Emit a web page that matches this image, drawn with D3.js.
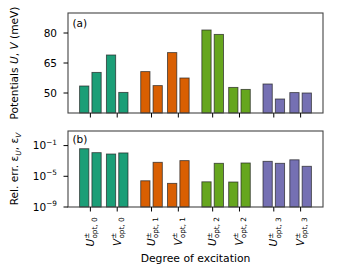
<!DOCTYPE html>
<html><head><meta charset="utf-8">
<script src="https://cdn.jsdelivr.net/npm/d3@7"></script>
<style>body{margin:0;background:#fff}svg{display:block}text{font-family:"DejaVu Sans",sans-serif;fill:#000}</style>
</head><body><svg id="c" width="340" height="270"></svg>
<script>
const groups = ["0", "1", "2", "3"];
const kinds = ["U", "V"];
// first / second bar of each pair, order: U0, V0, U1, V1, U2, V2, U3, V3
const potFirst  = [53.5, 69.0, 60.7, 70.2, 81.5, 52.8, 54.5, 50.2];
const potSecond = [60.3, 50.3, 53.7, 57.5, 79.3, 51.8, 47.0, 50.0];
const errFirst  = [3.9e-2, 8.0e-3, 2.6e-6, 1.2e-6, 1.9e-6, 1.8e-6, 8.9e-4, 1.4e-3];
const errSecond = [1.2e-2, 1.1e-2, 6.6e-4, 1.1e-3, 4.9e-4, 5.4e-4, 4.9e-4, 2.0e-4];
const potTicks = [50, 65, 80];
const errTicks = [-9, -5, -1];
const colors = ["#1b9e77", "#d95f02", "#66a61e", "#7570b3"];

const svg = d3.select("#c");
const L = 68, R = 323;
const A = {top: 13, bottom: 113};
const B = {top: 131, bottom: 207};
const GSTEP = 2.28, OFF = 0.23, BW = 0.345;

const cats = [];
groups.forEach((g, gi) => kinds.forEach((k, ki) => cats.push({g, gi, k, ki, pos: gi * GSTEP + ki})));

const x = d3.scaleLinear().domain([-0.835, 8.675]).range([L, R]);
const yA = d3.scaleLinear().domain([40, 90]).range([A.bottom, A.top]);
const yB = d3.scaleLog().domain([1e-9, Math.pow(10, 0.9)]).range([B.bottom, B.top]);

function bars(vals1, vals2, y, base) {
  const data = [];
  cats.forEach((c, i) => {
    data.push({c, v: vals1[i], cx: c.pos - OFF});
    data.push({c, v: vals2[i], cx: c.pos + OFF});
  });
  svg.append("g").selectAll("rect").data(data).join("rect")
    .attr("x", d => x(d.cx - BW / 2))
    .attr("width", d => x(BW) - x(0))
    .attr("y", d => y(d.v))
    .attr("height", d => y(base) - y(d.v))
    .attr("fill", d => colors[d.c.gi])
    .attr("stroke", "#222").attr("stroke-opacity", 0.75).attr("stroke-width", 0.9);
}
bars(potFirst, potSecond, yA, 40);
bars(errFirst, errSecond, yB, 1e-9);

// frames
[A, B].forEach(p => {
  svg.append("rect").attr("x", L).attr("y", p.top).attr("width", R - L).attr("height", p.bottom - p.top)
    .attr("fill", "none").attr("stroke", "#444").attr("stroke-width", 1.1);
});

// x ticks
[A, B].forEach(p => {
  svg.append("g").selectAll("line").data(cats).join("line")
    .attr("x1", d => x(d.pos)).attr("x2", d => x(d.pos))
    .attr("y1", p.bottom).attr("y2", p.bottom + 4.5)
    .attr("stroke", "#000").attr("stroke-width", 1);
});

// y ticks A
const ga = svg.append("g");
ga.selectAll("line").data(potTicks).join("line")
  .attr("x1", L - 4.5).attr("x2", L).attr("y1", d => yA(d)).attr("y2", d => yA(d))
  .attr("stroke", "#000");
ga.selectAll("text").data(potTicks).join("text")
  .attr("x", L - 11).attr("y", d => yA(d)).attr("dy", "0.35em")
  .attr("text-anchor", "end").attr("font-size", 10.5).text(d => d);

// y ticks B
const gb = svg.append("g");
gb.selectAll("line").data(errTicks).join("line")
  .attr("x1", L - 4.5).attr("x2", L).attr("y1", d => yB(Math.pow(10, d))).attr("y2", d => yB(Math.pow(10, d)))
  .attr("stroke", "#000");
errTicks.forEach(e => {
  const t = gb.append("text").attr("x", L - 11).attr("y", yB(Math.pow(10, e)) + 3.7)
    .attr("text-anchor", "end").attr("font-size", 10.5);
  t.append("tspan").text("10");
  t.append("tspan").attr("font-size", 7.3).attr("dy", -4.7).text("\u2212" + Math.abs(e));
});

// x tick labels
cats.forEach(c => {
  const g = svg.append("g").attr("transform", `translate(${x(c.pos) + 3.7},0) rotate(-90)`);
  const t = g.append("text").attr("x", 0).attr("y", 0).attr("font-size", 10.5);
  t.append("tspan").attr("font-style", "italic").text(c.k);
  t.append("tspan").attr("font-size", 7.3).attr("dy", -4.7).text("\u00b1");
  t.append("tspan").attr("font-size", 7.3).attr("dx", -6).attr("dy", 7.8).text("opt, " + c.g);
  const bb = t.node().getBBox();
  t.attr("x", -217 - (bb.x + bb.width));
});

// panel labels
svg.append("text").attr("x", 72.5).attr("y", 27).attr("font-size", 10.5).text("(a)");
svg.append("text").attr("x", 72.5).attr("y", 143).attr("font-size", 10.5).text("(b)");

// axis titles
const ta = svg.append("text").attr("transform", `translate(18,${(A.top + A.bottom) / 2}) rotate(-90)`)
  .attr("text-anchor", "middle").attr("font-size", 10.6);
ta.append("tspan").text("Potentials ");
ta.append("tspan").attr("font-style", "italic").text("U");
ta.append("tspan").text(", ");
ta.append("tspan").attr("font-style", "italic").text("V");
ta.append("tspan").text(" (meV)");

const tb = svg.append("text").attr("transform", `translate(18,${(B.top + B.bottom) / 2}) rotate(-90)`)
  .attr("text-anchor", "middle").attr("font-size", 10.6);
tb.append("tspan").text("Rel. err. \u03b5");
tb.append("tspan").attr("font-style", "italic").attr("font-size", 7.4).attr("dy", 2.5).text("U");
tb.append("tspan").attr("dy", -2.5).text(", \u03b5");
tb.append("tspan").attr("font-style", "italic").attr("font-size", 7.4).attr("dy", 2.5).text("V");

svg.append("text").attr("x", (L + R) / 2).attr("y", 262).attr("text-anchor", "middle")
  .attr("font-size", 10.8).text("Degree of excitation");
</script></body></html>
